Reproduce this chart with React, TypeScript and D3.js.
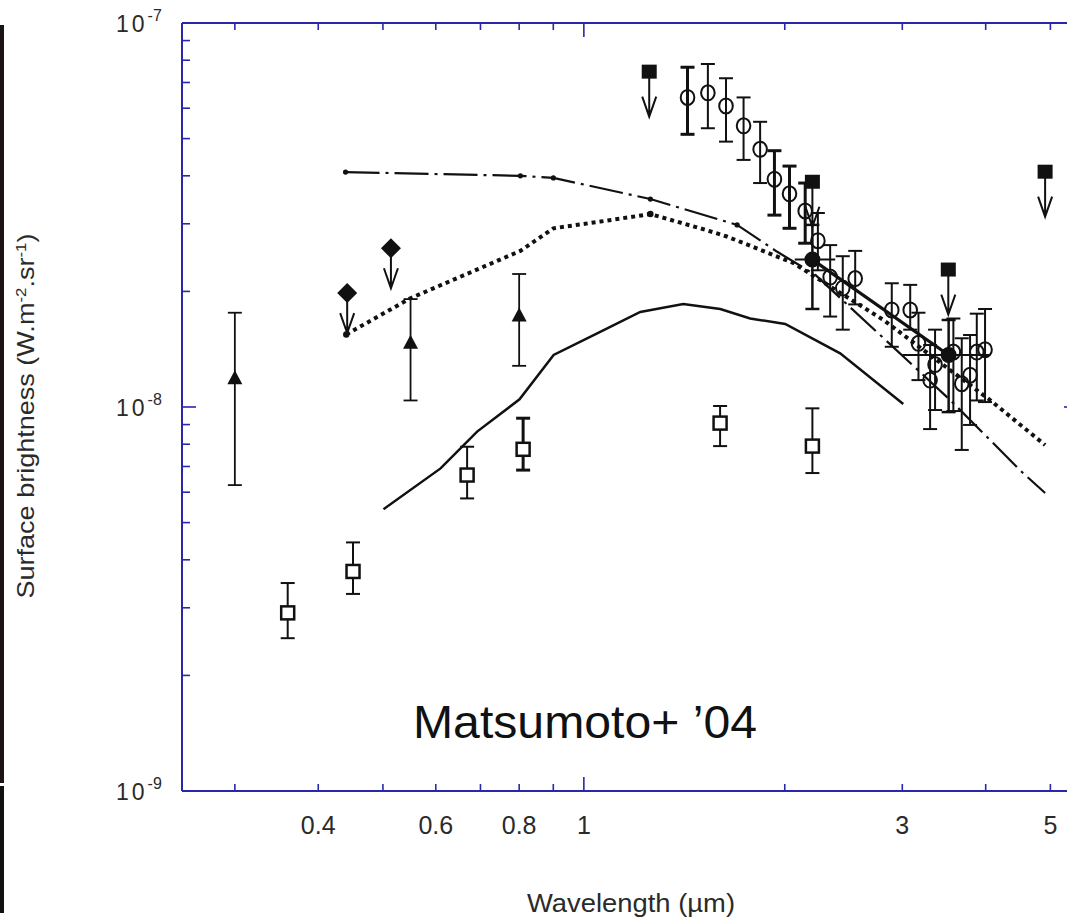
import React from "react";
import * as d3 from "d3";

const W = 1067;
const H = 923;

// axis ticks
const xMinorTicks = [0.3, 0.4, 0.5, 0.6, 0.7, 0.8, 0.9, 2, 3, 4, 5];
const xMajorTicks = [1];
const xTickLabels = [0.4, 0.6, 0.8, 1, 3, 5];
const yMajorTicks = [1e-9, 1e-8, 1e-7];
const yMinorTicks = [2e-9, 3e-9, 4e-9, 5e-9, 6e-9, 7e-9, 8e-9, 9e-9, 2e-8, 3e-8, 4e-8, 5e-8, 6e-8, 7e-8, 8e-8, 9e-8];
const yTickLabels = [
  { v: 1e-7, exp: "-7" },
  { v: 1e-8, exp: "-8" },
  { v: 1e-9, exp: "-9" },
];

// model curves [wavelength um, brightness]
const solidModel: [number, number][] = [
  [0.501, 5.42e-9], [0.61, 6.92e-9], [0.692, 8.63e-9], [0.801, 1.047e-8], [0.901, 1.366e-8],
  [1.058, 1.57e-8], [1.215, 1.768e-8], [1.409, 1.854e-8], [1.601, 1.8e-8], [1.775, 1.7e-8],
  [2.003, 1.645e-8], [2.421, 1.38e-8], [3.01, 1.018e-8],
];
const dottedModel: [number, number][] = [
  [0.4406, 1.545e-8], [0.5498, 1.92e-8], [0.8034, 2.55e-8], [0.9002, 2.92e-8], [1.0585, 3.04e-8],
  [1.258, 3.18e-8], [1.494, 2.92e-8], [1.638, 2.78e-8], [2.062, 2.37e-8], [2.339, 2.06e-8],
  [2.811, 1.685e-8], [3.538, 1.248e-8], [4.059, 1.043e-8], [4.91, 7.96e-9],
];
const dashDotModel: [number, number][] = [
  [0.4395, 4.09e-8], [0.8034, 4.0e-8], [0.9002, 3.95e-8], [1.258, 3.48e-8], [1.697, 2.98e-8],
  [1.946, 2.54e-8], [2.221, 2.21e-8], [2.779, 1.54e-8], [3.538, 1.043e-8], [4.549, 6.73e-9],
  [4.91, 5.97e-9],
];
const dashDotNodes: [number, number][] = [
  [0.4395, 4.09e-8], [0.8034, 4.0e-8], [0.9002, 3.95e-8], [1.258, 3.48e-8], [1.697, 2.98e-8],
];
const dottedNodes: [number, number][] = [[0.4406, 1.545e-8], [1.258, 3.18e-8]];
const fitLine: [number, number][] = [[2.2, 2.42e-8], [3.52, 1.366e-8]];

// [wavelength, value, upper, lower]
const openCircles: [number, number, number, number][] = [
  [1.43, 6.4e-8, 7.67e-8, 5.13e-8],
  [1.534, 6.58e-8, 7.82e-8, 5.32e-8],
  [1.633, 6.08e-8, 7.18e-8, 4.91e-8],
  [1.735, 5.4e-8, 6.4e-8, 4.4e-8],
  [1.837, 4.69e-8, 5.53e-8, 3.83e-8],
  [1.93, 3.92e-8, 4.65e-8, 3.16e-8],
  [2.033, 3.59e-8, 4.24e-8, 2.92e-8],
  [2.146, 3.24e-8, 3.83e-8, 2.67e-8],
  [2.242, 2.71e-8, 3.2e-8, 2.27e-8],
  [2.339, 2.18e-8, 2.64e-8, 1.72e-8],
  [2.443, 2.04e-8, 2.47e-8, 1.59e-8],
  [2.55, 2.16e-8, 2.55e-8, 1.85e-8],
  [2.893, 1.79e-8, 2.1e-8, 1.435e-8],
  [3.083, 1.79e-8, 2.08e-8, 1.59e-8],
  [3.172, 1.465e-8, 1.76e-8, 1.175e-8],
  [3.302, 1.175e-8, 1.45e-8, 8.76e-9],
  [3.359, 1.29e-8, 1.59e-8, 9.82e-9],
  [3.578, 1.39e-8, 1.7e-8, 9.76e-9],
  [3.683, 1.15e-8, 1.51e-8, 7.73e-9],
  [3.79, 1.21e-8, 1.54e-8, 8.98e-9],
  [3.879, 1.39e-8, 1.75e-8, 1.04e-8],
  [3.991, 1.41e-8, 1.8e-8, 1.03e-8],
];
const openSquares: [number, number, number, number][] = [
  [0.36, 2.91e-9, 3.48e-9, 2.5e-9],
  [0.451, 3.73e-9, 4.44e-9, 3.26e-9],
  [0.6685, 6.65e-9, 7.88e-9, 5.78e-9],
  [0.811, 7.76e-9, 9.35e-9, 6.85e-9],
  [1.6, 9.08e-9, 1.006e-8, 7.91e-9],
  [2.2, 7.91e-9, 9.92e-9, 6.73e-9],
];
const triangles: [number, number, number, number][] = [
  [0.3, 1.188e-8, 1.76e-8, 6.26e-9],
  [0.55, 1.47e-8, 1.91e-8, 1.04e-8],
  [0.8, 1.73e-8, 2.22e-8, 1.28e-8],
];
// [wavelength, value, xlow, xhigh, upper, lower]
const filledCircles: [number, number, number, number, number, number][] = [
  [2.2, 2.42e-8, 2.07, 2.38, 2.98e-8, 1.8e-8],
  [3.52, 1.366e-8, 3.0, 4.05, 1.685e-8, 9.7e-9],
];
// upper limits
const diamondLimits: [number, number][] = [[0.442, 1.98e-8], [0.514, 2.59e-8]];
const squareLimits: [number, number][] = [[1.253, 7.47e-8], [2.2, 3.86e-8], [3.516, 2.28e-8], [4.91, 4.1e-8]];

const AXIS = "#2828a8";
const INK = "#111";
const FONT = "'Liberation Sans', Arial, Helvetica, sans-serif";

export default function App() {
  const x = d3.scaleLog().domain([0.25, 5.5]).range([182, 1078]);
  const y = d3.scaleLog().domain([1e-9, 1e-7]).range([791, 23]);
  const line = d3
    .line<[number, number]>()
    .x((d) => x(d[0]))
    .y((d) => y(d[1]));

  const top = y(1e-7);
  const bottom = y(1e-9);
  const left = x(0.25);
  const right = x(5.5);

  const errBar = (wx: number, hi: number, lo: number, sw: number, key: string, cap = 7) => {
    const px = x(wx);
    return (
      <g key={key} stroke={INK} strokeWidth={sw}>
        <line x1={px} x2={px} y1={y(hi)} y2={y(lo)} />
        <line x1={px - cap} x2={px + cap} y1={y(hi)} y2={y(hi)} />
        <line x1={px - cap} x2={px + cap} y1={y(lo)} y2={y(lo)} />
      </g>
    );
  };

  const arrow = (px: number, py: number, len: number, key: string) => (
    <path
      key={key}
      d={`M${px},${py} L${px},${py + len} M${px - 7},${py + len - 20} L${px},${py + len} L${px + 7},${py + len - 20}`}
      fill="none"
      stroke={INK}
      strokeWidth={2}
    />
  );

  return (
    <svg
      width={W}
      height={H}
      style={{ position: "absolute", left: 0, top: 0, background: "#fff" }}
      fontFamily={FONT}
    >
      <rect x={0} y={0} width={W} height={H} fill="#fff" />
      {/* left dark strip */}
      <rect x={0} y={25} width={4} height={758} fill="#1a1418" />
      <rect x={0} y={786} width={4} height={127} fill="#111" />

      {/* frame */}
      <g stroke={AXIS} strokeWidth={2} fill="none">
        <line x1={left} x2={right} y1={top} y2={top} />
        <line x1={left} x2={right} y1={bottom} y2={bottom} />
        <line x1={left} x2={left} y1={top} y2={bottom} />
        <line x1={right} x2={right} y1={top} y2={bottom} />
      </g>
      <g stroke={AXIS} strokeWidth={1.6}>
        {xMinorTicks.map((t) => (
          <g key={"xm" + t}>
            <line x1={x(t)} x2={x(t)} y1={bottom} y2={bottom - 7} />
            <line x1={x(t)} x2={x(t)} y1={top} y2={top + 7} />
          </g>
        ))}
        {xMajorTicks.map((t) => (
          <g key={"xM" + t}>
            <line x1={x(t)} x2={x(t)} y1={bottom} y2={bottom - 14} />
            <line x1={x(t)} x2={x(t)} y1={top} y2={top + 14} />
          </g>
        ))}
        {yMinorTicks.map((t) => (
          <g key={"ym" + t}>
            <line x1={left} x2={left + 8} y1={y(t)} y2={y(t)} />
            <line x1={right} x2={right - 8} y1={y(t)} y2={y(t)} />
          </g>
        ))}
        {yMajorTicks.map((t) => (
          <g key={"yM" + t}>
            <line x1={left} x2={left + 14} y1={y(t)} y2={y(t)} />
            <line x1={right} x2={right - 14} y1={y(t)} y2={y(t)} />
          </g>
        ))}
      </g>

      {/* tick labels */}
      <g fill="#2a2a2a" fontSize={25}>
        {xTickLabels.map((t) => (
          <text key={"xl" + t} x={x(t)} y={834} textAnchor="middle">
            {String(t)}
          </text>
        ))}
      </g>
      <g fill="#2a2a2a">
        {yTickLabels.map((t) => (
          <text key={"yl" + t.exp} x={116} y={y(t.v) + 8.5} fontSize={23} letterSpacing={3}>
            10
            <tspan dy={-11} fontSize={16} letterSpacing={0}>
              {t.exp}
            </tspan>
          </text>
        ))}
      </g>

      {/* axis titles */}
      <text
        transform={`translate(34,416) rotate(-90)`}
        textAnchor="middle"
        fontSize={24}
        fill="#2a2a2a"
        textLength={365}
        lengthAdjust="spacingAndGlyphs"
      >
        Surface brightness (W.m<tspan dy={-8} fontSize={15}>-2</tspan>
        <tspan dy={8}>.sr</tspan>
        <tspan dy={-8} fontSize={15}>-1</tspan>
        <tspan dy={8}>)</tspan>
      </text>
      <text x={631} y={912} textAnchor="middle" fontSize={26} fill="#2a2a2a" textLength={208} lengthAdjust="spacingAndGlyphs">
        Wavelength (µm)
      </text>

      {/* model curves */}
      <path d={line(solidModel) || ""} fill="none" stroke={INK} strokeWidth={2.5} />
      <path d={line(dottedModel) || ""} fill="none" stroke={INK} strokeWidth={4} strokeDasharray="4 4" />
      <path d={line(dashDotModel) || ""} fill="none" stroke={INK} strokeWidth={2.2} strokeDasharray="34 6 3 6" />
      <path d={line(fitLine) || ""} fill="none" stroke={INK} strokeWidth={3.2} />
      {dashDotNodes.map((d, i) => (
        <circle key={"dn" + i} cx={x(d[0])} cy={y(d[1])} r={2.6} fill={INK} />
      ))}
      {dottedNodes.map((d, i) => (
        <circle key={"don" + i} cx={x(d[0])} cy={y(d[1])} r={3.2} fill={INK} />
      ))}

      {/* open circles */}
      {openCircles.map((d, i) => errBar(d[0], d[2], d[3], i < 1 || (i > 4 && i < 8) ? 3 : 2, "ce" + i))}
      {openCircles.map((d, i) => (
        <ellipse key={"c" + i} cx={x(d[0])} cy={y(d[1])} rx={6.8} ry={7.5} fill="none" stroke={INK} strokeWidth={2} />
      ))}

      {/* filled circles */}
      {filledCircles.map((d, i) => (
        <g key={"fc" + i} stroke={INK} strokeWidth={2}>
          <line x1={x(d[2])} x2={x(d[3])} y1={y(d[1])} y2={y(d[1])} />
          {errBar(d[0], d[4], d[5], 2.5, "fce" + i)}
          <circle cx={x(d[0])} cy={y(d[1])} r={7} fill={INK} />
        </g>
      ))}

      {/* open squares */}
      {openSquares.map((d, i) => errBar(d[0], d[2], d[3], i === 3 ? 3 : 2, "se" + i))}
      {openSquares.map((d, i) => (
        <rect
          key={"s" + i}
          x={x(d[0]) - 6.5}
          y={y(d[1]) - 6.5}
          width={13}
          height={13}
          fill="#fff"
          stroke={INK}
          strokeWidth={2.5}
        />
      ))}

      {/* triangles */}
      {triangles.map((d, i) => errBar(d[0], d[2], d[3], 1.8, "te" + i))}
      {triangles.map((d, i) => {
        const px = x(d[0]);
        const py = y(d[1]);
        return <path key={"t" + i} d={`M${px},${py - 8} L${px + 7.5},${py + 6} L${px - 7.5},${py + 6} Z`} fill={INK} />;
      })}

      {/* diamond upper limits */}
      {diamondLimits.map((d, i) => {
        const px = x(d[0]);
        const py = y(d[1]);
        return (
          <g key={"d" + i}>
            {arrow(px, py, 40, "da" + i)}
            <path d={`M${px},${py - 10} L${px + 10},${py} L${px},${py + 10} L${px - 10},${py} Z`} fill={INK} />
          </g>
        );
      })}

      {/* square upper limits */}
      {squareLimits.map((d, i) => {
        const px = x(d[0]);
        const py = y(d[1]);
        return (
          <g key={"q" + i}>
            {arrow(px, py, 45, "qa" + i)}
            <rect x={px - 7.5} y={py - 7} width={15} height={14} fill={INK} />
          </g>
        );
      })}

      <text x={413} y={738} fontSize={46} fill="#111" textLength={344} lengthAdjust="spacingAndGlyphs">
        Matsumoto+ ’04
      </text>
    </svg>
  );
}
